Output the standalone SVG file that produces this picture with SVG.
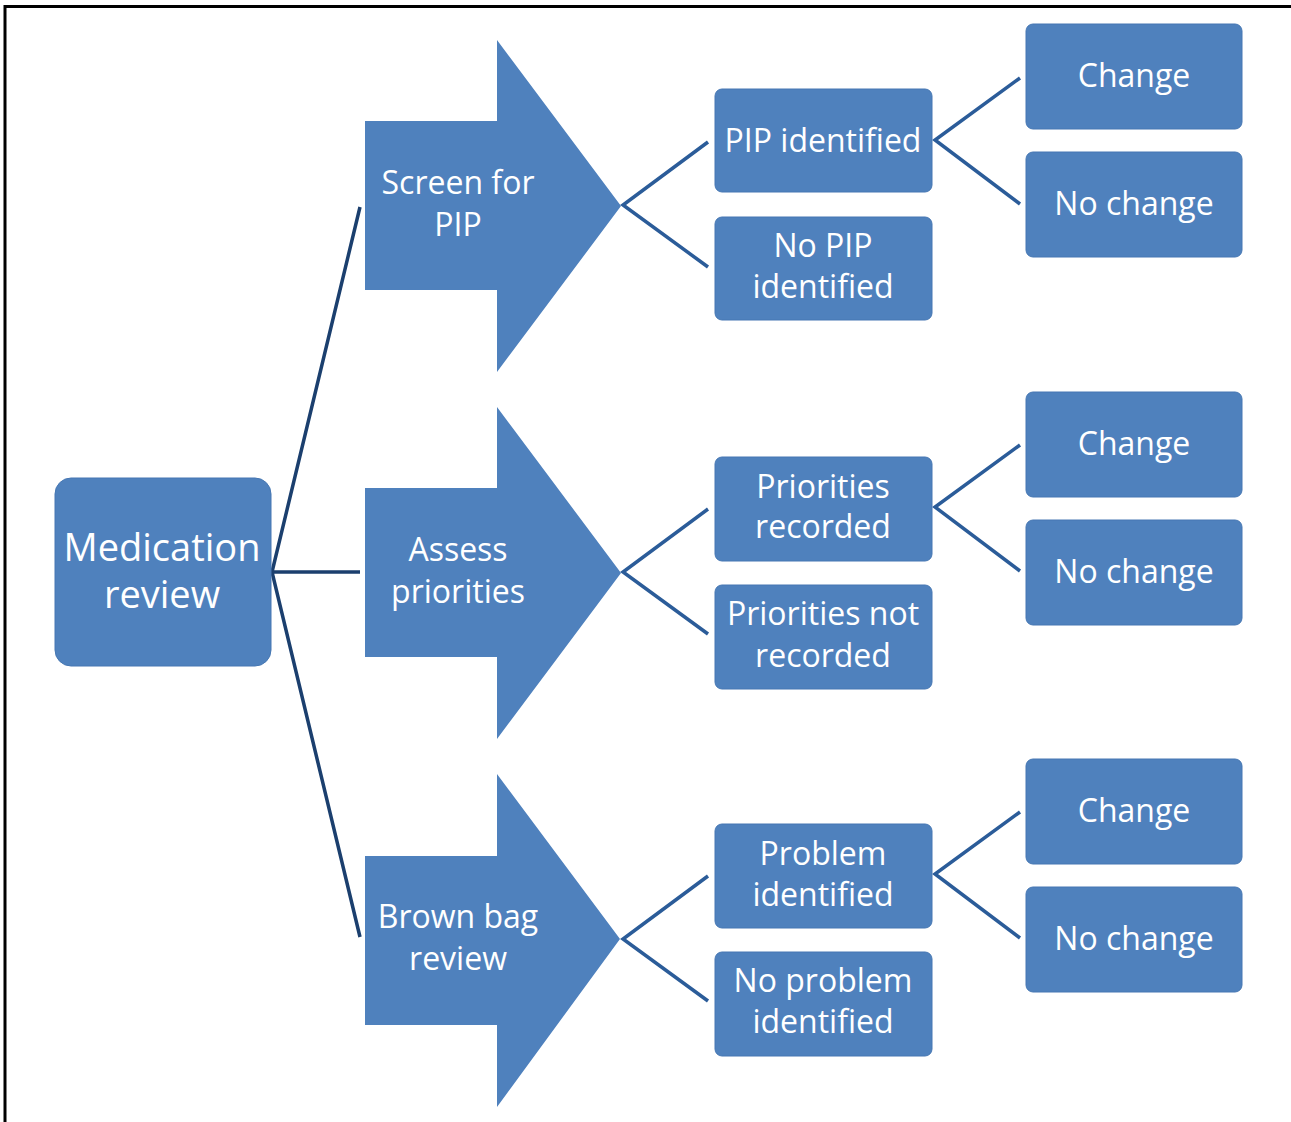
<svg xmlns="http://www.w3.org/2000/svg" width="1291" height="1122" viewBox="0 0 1291 1122">
<style>
.box{fill:#4F81BD;stroke:#4677B3;stroke-width:1}
.arr{fill:#4F81BD}
.t{font-family:"Open Sans","Liberation Sans",sans-serif;fill:#fff;text-anchor:middle;font-size:32px}
.tb{font-size:38px}
.c1{stroke:#1B3F6E;stroke-width:3.5;fill:none}
.c2{stroke:#2B5C99;stroke-width:3.5;fill:none}
</style>
<rect width="1291" height="1122" fill="#fff"/>
<path d="M5,1122 V6.5 H1291" fill="none" stroke="#000" stroke-width="3"/>
<g id="connectors">
<path class="c1" d="M360,207 L272,572 L360,937 M272,572 H360"/>
<path class="c2" d="M708,142 L623,205 L708,267"/>
<path class="c2" d="M708,509 L623,572 L708,634"/>
<path class="c2" d="M708,876 L623,939 L708,1001"/>
<path class="c2" d="M1020,78 L935,140 L1020,204"/>
<path class="c2" d="M1020,445 L935,507 L1020,571"/>
<path class="c2" d="M1020,812 L935,874 L1020,938"/>
</g>
<g id="medication-review">
<rect class="box" x="55" y="478" width="216" height="188" rx="16"/>
<text class="t tb" x="162" y="561">Medication</text>
<text class="t tb" x="162" y="608">review</text>
</g>
<g id="screen-for-pip">
<path class="arr" d="M365,121 H497 V40 L621,206 L497,372 V290 H365 Z"/>
<text class="t" x="458" y="194">Screen for</text>
<text class="t" x="458" y="236">PIP</text>
</g>
<g id="assess-priorities">
<path class="arr" d="M365,488 H497 V407 L621,573 L497,739 V657 H365 Z"/>
<text class="t" x="458" y="561">Assess</text>
<text class="t" x="458" y="603">priorities</text>
</g>
<g id="brown-bag-review">
<path class="arr" d="M365,856 H497 V774 L620,939 L497,1107 V1025 H365 Z"/>
<text class="t" x="458" y="928">Brown bag</text>
<text class="t" x="458" y="970">review</text>
</g>
<g id="pip-identified">
<rect class="box" x="715" y="89" width="217" height="103" rx="7"/>
<text class="t" x="823" y="152">PIP identified</text>
</g>
<g id="no-pip-identified">
<rect class="box" x="715" y="217" width="217" height="103" rx="7"/>
<text class="t" x="823" y="257">No PIP</text>
<text class="t" x="823" y="298">identified</text>
</g>
<g id="priorities-recorded">
<rect class="box" x="715" y="457" width="217" height="104" rx="7"/>
<text class="t" x="823" y="498">Priorities</text>
<text class="t" x="823" y="538">recorded</text>
</g>
<g id="priorities-not-recorded">
<rect class="box" x="715" y="585" width="217" height="104" rx="7"/>
<text class="t" x="823" y="625">Priorities not</text>
<text class="t" x="823" y="667">recorded</text>
</g>
<g id="problem-identified">
<rect class="box" x="715" y="824" width="217" height="104" rx="7"/>
<text class="t" x="823" y="865">Problem</text>
<text class="t" x="823" y="906">identified</text>
</g>
<g id="no-problem-identified">
<rect class="box" x="715" y="952" width="217" height="104" rx="7"/>
<text class="t" x="823" y="992">No problem</text>
<text class="t" x="823" y="1033">identified</text>
</g>
<g id="change-1">
<rect class="box" x="1026" y="24" width="216" height="105" rx="7"/>
<text class="t" x="1134" y="87">Change</text>
</g>
<g id="no-change-1">
<rect class="box" x="1026" y="152" width="216" height="105" rx="7"/>
<text class="t" x="1134" y="215">No change</text>
</g>
<g id="change-2">
<rect class="box" x="1026" y="392" width="216" height="105" rx="7"/>
<text class="t" x="1134" y="455">Change</text>
</g>
<g id="no-change-2">
<rect class="box" x="1026" y="520" width="216" height="105" rx="7"/>
<text class="t" x="1134" y="583">No change</text>
</g>
<g id="change-3">
<rect class="box" x="1026" y="759" width="216" height="105" rx="7"/>
<text class="t" x="1134" y="822">Change</text>
</g>
<g id="no-change-3">
<rect class="box" x="1026" y="887" width="216" height="105" rx="7"/>
<text class="t" x="1134" y="950">No change</text>
</g>
</svg>
